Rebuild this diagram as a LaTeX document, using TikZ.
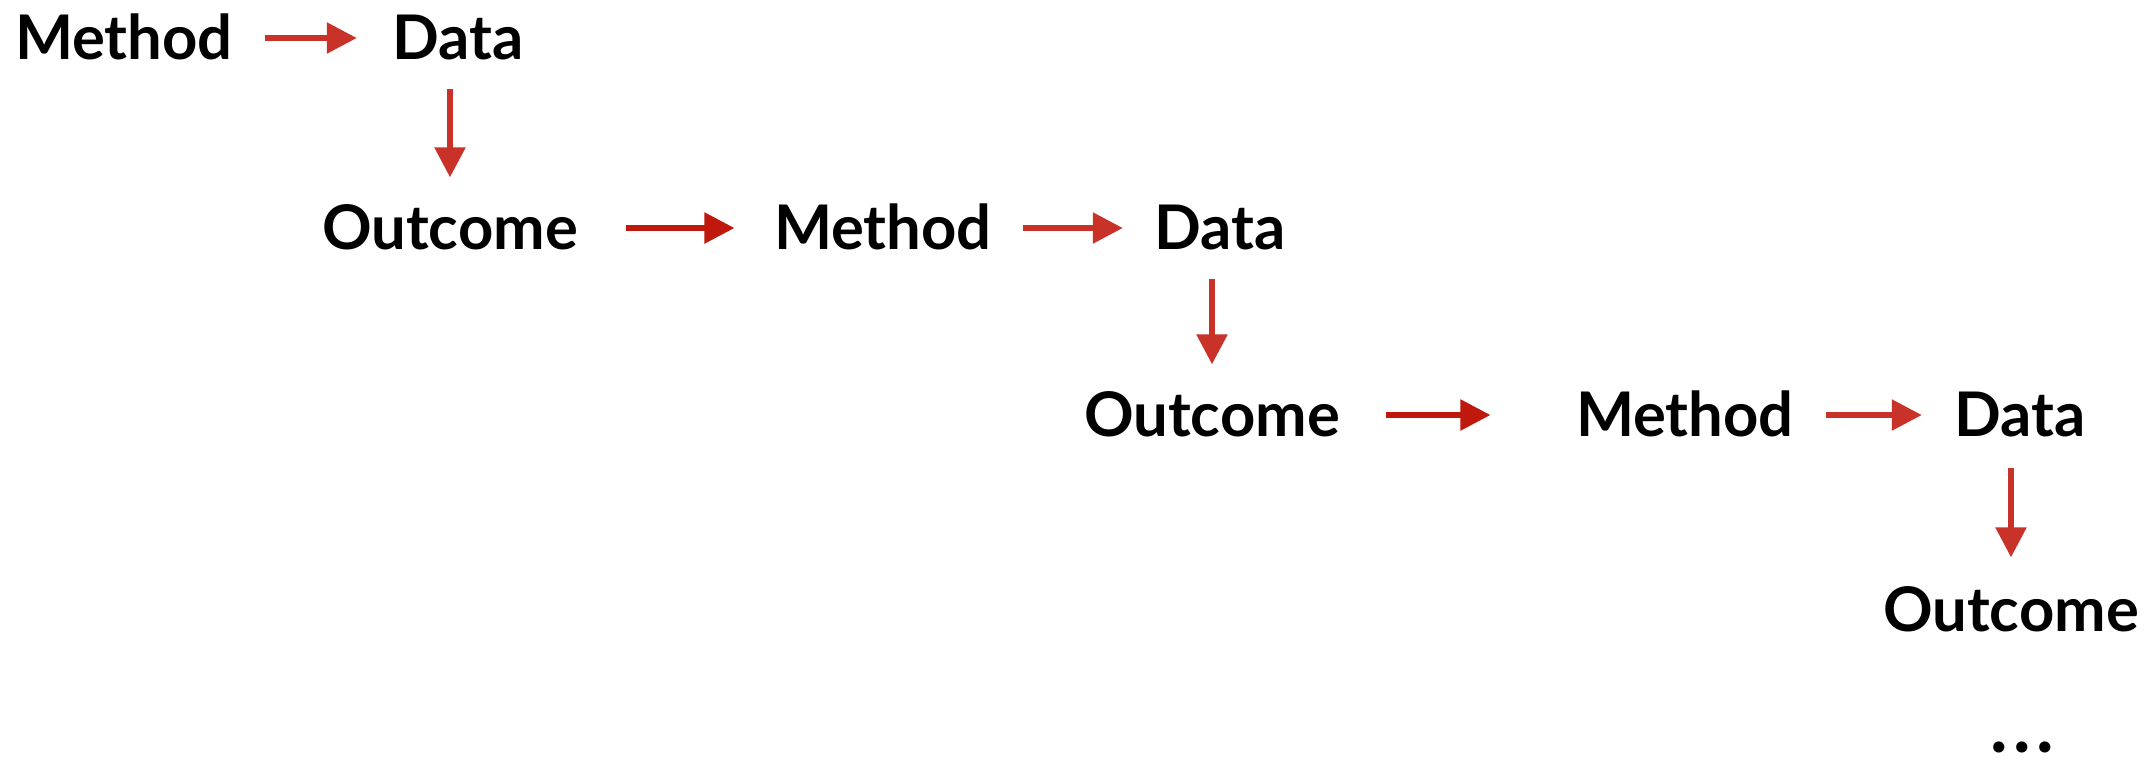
\documentclass[tikz,border=0pt]{standalone}
\usepackage{fontspec}
\setmainfont{Lato}
\usetikzlibrary{arrows.meta}
\definecolor{arrred}{RGB}{200,50,40}
\definecolor{arrdark}{RGB}{190,25,12}
\tikzset{
  word/.style={inner sep=0pt, text depth=0pt, text height=12.5pt, anchor=base,
    font=\fontsize{17.5pt}{20pt}\selectfont\bfseries, text=black},
  arr/.style={draw=arrred, line width=0.055cm,
    -{Triangle[length=0.30cm,width=0.30cm]}},
}
\begin{document}
\begin{tikzpicture}[x=0.01cm,y=-0.01cm]
\useasboundingbox[fill=white] (0,0) rectangle (2153,770);
% row 1
\node[word] (m1) at (124,60) {Method};
\node[word] (d1) at (458,60) {Data};
% row 2
\node[word] (o2) at (450,250) {Outcome};
\node[word] (m2) at (883,250) {Method};
\node[word] (d2) at (1220,250) {Data};
% row 3
\node[word] (o3) at (1212,437) {Outcome};
\node[word] (m3) at (1685,437) {Method};
\node[word] (d3) at (2020,437) {Data};
% row 4
\node[word] (o4) at (2011,632) {Outcome};
\node[word, text height=4pt, font=\fontsize{21pt}{24pt}\selectfont\bfseries] (dots) at (2022,752) {.\kern1.6pt.\kern1.6pt.};
% arrows
\draw[arr, shorten <=0.31cm, shorten >=0.35cm] (m1.east) -- (d1.west);
\draw[arr, shorten <=0.28cm, shorten >=0.28cm] (d1.south -| o2.north) -- (o2.north);
\draw[arr, draw=arrdark, shorten <=0.47cm, shorten >=0.39cm] (o2.east) -- (m2.west);
\draw[arr, shorten <=0.30cm, shorten >=0.31cm] (m2.east) -- (d2.west);
\draw[arr, shorten <=0.28cm, shorten >=0.28cm] (d2.south -| o3.north) -- (o3.north);
\draw[arr, draw=arrdark, shorten <=0.45cm, shorten >=0.85cm] (o3.east) -- (m3.west);
\draw[arr, shorten <=0.31cm, shorten >=0.32cm] (m3.east) -- (d3.west);
\draw[arr, shorten <=0.30cm, shorten >=0.30cm] (d3.south -| o4.north) -- (o4.north);
\end{tikzpicture}
\end{document}
